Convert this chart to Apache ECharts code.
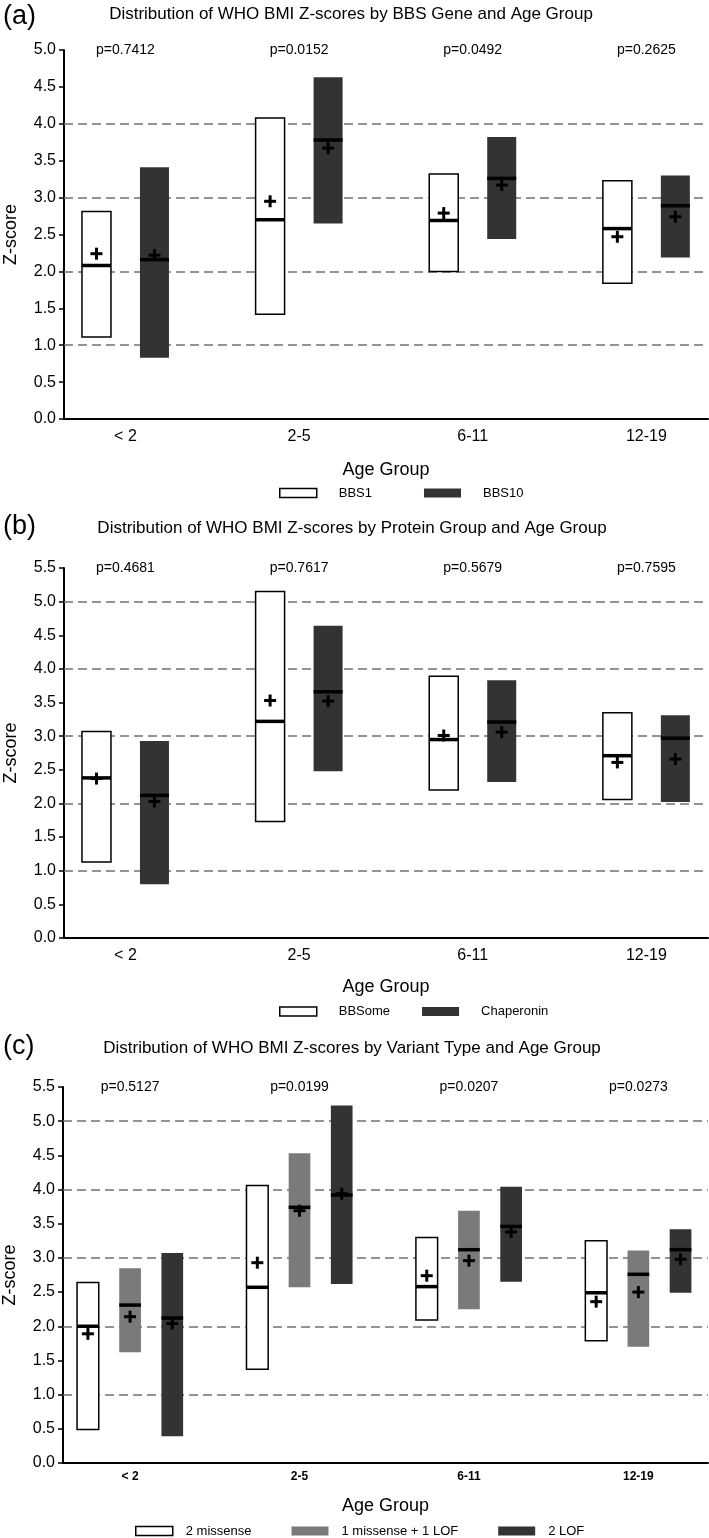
<!DOCTYPE html>
<html><head><meta charset="utf-8">
<script src="https://cdn.jsdelivr.net/npm/echarts@6/dist/echarts.min.js"></script>
<style>html,body{margin:0;padding:0;background:#fff}#c{width:709px;height:1538px}</style>
</head><body><div id="c"></div>
<script>
const ageGroups = ['< 2', '2-5', '6-11', '12-19'];
// each row (one per age group): [low, median, high, mean]
const bbs1       = [[1.11, 2.08, 2.81, 2.24], [1.42, 2.70, 4.08, 2.95], [2.00, 2.69, 3.32, 2.79], [1.84, 2.58, 3.23, 2.47]];
const bbs10      = [[0.83, 2.16, 3.41, 2.22], [2.65, 3.78, 4.63, 3.67], [2.44, 3.26, 3.82, 3.17], [2.19, 2.89, 3.30, 2.74]];
const bbsome     = [[1.13, 2.38, 3.07, 2.37], [1.73, 3.22, 5.15, 3.53], [2.20, 2.95, 3.89, 3.01], [2.06, 2.71, 3.35, 2.61]];
const chaperonin = [[0.80, 2.12, 2.93, 2.03], [2.48, 3.66, 4.64, 3.52], [2.32, 3.21, 3.83, 3.06], [2.02, 2.97, 3.31, 2.66]];
const missense2  = [[0.49, 2.00, 2.64, 1.89], [1.37, 2.57, 4.06, 2.93], [2.09, 2.58, 3.30, 2.74], [1.79, 2.49, 3.25, 2.36]];
const missenseLof= [[1.62, 2.31, 2.85, 2.14], [2.57, 3.74, 4.53, 3.69], [2.25, 3.12, 3.69, 2.96], [1.70, 2.76, 3.11, 2.50]];
const lof2       = [[0.39, 2.12, 3.07, 2.04], [2.62, 3.92, 5.23, 3.94], [2.65, 3.46, 4.04, 3.38], [2.49, 3.12, 3.42, 2.98]];
const pValuesA = ['p=0.7412', 'p=0.0152', 'p=0.0492', 'p=0.2625'];
const pValuesB = ['p=0.4681', 'p=0.7617', 'p=0.5679', 'p=0.7595'];
const pValuesC = ['p=0.5127', 'p=0.0199', 'p=0.0207', 'p=0.0273'];
const refLinesA = [1, 2, 3, 4];
const refLinesBC = [1, 2, 3, 4, 5];
const yMaxA = 5.0, yMaxBC = 5.5;

const FONT = 'Liberation Sans, Arial, sans-serif';
const WHITE = '#ffffff', GRAY = '#7a7a7a', DARK = '#333333';

function boxRender(offset, halfW, fill, border) {
  return function (params, api) {
    const x = api.value(0);
    const lo = api.value(1), med = api.value(2), hi = api.value(3), mean = api.value(4);
    const tl = api.coord([x + offset - halfW, hi]);
    const br = api.coord([x + offset + halfW, lo]);
    const ml = api.coord([x + offset - halfW, med]);
    const mr = api.coord([x + offset + halfW, med]);
    const mc = api.coord([x + offset, mean]);
    return {
      type: 'group',
      children: [
        { type: 'rect', shape: { x: tl[0], y: tl[1], width: br[0] - tl[0], height: br[1] - tl[1] },
          style: { fill: fill, stroke: border ? '#000' : null, lineWidth: border ? 1.5 : 0 } },
        { type: 'rect', shape: { x: ml[0], y: ml[1] - 1.75, width: mr[0] - ml[0], height: 3.5 }, style: { fill: '#000' } },
        { type: 'rect', shape: { x: mc[0] - 6, y: mc[1] - 1.5, width: 12, height: 3 }, style: { fill: '#000' } },
        { type: 'rect', shape: { x: mc[0] - 1.5, y: mc[1] - 6, width: 3, height: 12 }, style: { fill: '#000' } }
      ]
    };
  };
}

function boxSeries(name, rows, axisIdx, offset, halfW, fill, border) {
  return {
    name: name, type: 'custom', xAxisIndex: axisIdx, yAxisIndex: axisIdx, z: 10,
    itemStyle: { color: fill, borderColor: border ? '#000' : fill },
    renderItem: boxRender(offset, halfW, fill, border),
    encode: { x: 0, y: [1, 2, 3, 4] },
    data: rows.map((r, i) => [i, r[0], r[1], r[2], r[3]])
  };
}

function pSeries(texts, axisIdx, yMax, refLines) {
  return {
    type: 'custom', xAxisIndex: axisIdx, yAxisIndex: axisIdx, z: 3, silent: true,
    renderItem: function (params, api) {
      const p = api.coord([api.value(0), api.value(1)]);
      return { type: 'text', x: p[0], y: p[1],
        style: { text: texts[params.dataIndex], font: '14px ' + FONT, fill: '#000', align: 'center', verticalAlign: 'middle' } };
    },
    encode: { x: 0, y: 1 },
    data: texts.map((t, i) => [i, yMax]),
    markLine: {
      silent: true, symbol: 'none', z: 1, animation: false,
      label: { show: false },
      lineStyle: { type: [9, 5], color: '#707070', width: 1.6 },
      data: refLines.map(v => ({ yAxis: v }))
    }
  };
}

function xAxis(idx, min, max, labelSize, labelWeight, margin, nameGap) {
  return {
    gridIndex: idx, type: 'value', min: min, max: max,
    axisLine: { onZero: false, lineStyle: { color: '#000', width: 2 } },
    axisTick: { show: false }, splitLine: { show: false },
    axisLabel: { customValues: [0, 1, 2, 3], formatter: v => ageGroups[Math.round(v)],
      fontSize: labelSize, fontWeight: labelWeight, color: '#000', margin: margin, fontFamily: FONT },
    name: 'Age Group', nameLocation: 'middle', nameGap: nameGap,
    nameTextStyle: { fontSize: 18, color: '#000', fontFamily: FONT }
  };
}
function yAxis(idx, max) {
  return {
    gridIndex: idx, type: 'value', min: 0, max: max, interval: 0.5,
    axisLine: { show: true, onZero: false, lineStyle: { color: '#000', width: 2 } },
    axisTick: { show: true, length: 5, lineStyle: { color: '#000', width: 1.5 } },
    splitLine: { show: false },
    axisLabel: { fontSize: 16, color: '#000', margin: 8, fontFamily: FONT, formatter: v => v.toFixed(1) },
    name: 'Z-score', nameLocation: 'middle', nameGap: 44, nameRotate: 90,
    nameTextStyle: { fontSize: 18, color: '#000', fontFamily: FONT }
  };
}

function legend(items, left, top, gap, textPad, fontSize) {
  return {
    data: items, left: left, top: top, itemWidth: 37, itemHeight: 9, itemGap: gap, icon: 'rect',
    selectedMode: false, padding: 0,
    textStyle: { fontSize: fontSize, color: '#000', fontFamily: FONT, padding: [0, 0, 0, textPad] }
  };
}
const whiteItem = n => ({ name: n, itemStyle: { color: WHITE, borderColor: '#000', borderWidth: 1.5 } });
const fillItem = (n, c) => ({ name: n, itemStyle: { color: c, borderColor: c, borderWidth: 0 } });

const ABW = 0.0835, ABO = 0.167;   // half box width & offset (axis units), panels a/b
const CBW = 0.064, CBO = 0.249;    // panel c

const titleStyle = { fontSize: 17, fontWeight: 'normal', color: '#000', fontFamily: FONT };
const tagStyle = { fontSize: 27, fontWeight: 'normal', color: '#000', fontFamily: FONT };

const option = {
  animation: false,
  textStyle: { fontFamily: FONT },
  title: [
    { text: '(a)', left: 3, top: 3.5, padding: 0, textStyle: tagStyle },
    { text: 'Distribution of WHO BMI Z-scores by BBS Gene and Age Group', left: 351, textAlign: 'center', top: 5.5, padding: 0, textStyle: titleStyle },
    { text: '(b)', left: 3, top: 513.5, padding: 0, textStyle: tagStyle },
    { text: 'Distribution of WHO BMI Z-scores by Protein Group and Age Group', left: 352, textAlign: 'center', top: 519.5, padding: 0, textStyle: titleStyle },
    { text: '(c)', left: 3, top: 1033.5, padding: 0, textStyle: tagStyle },
    { text: 'Distribution of WHO BMI Z-scores by Variant Type and Age Group', left: 352, textAlign: 'center', top: 1039.5, padding: 0, textStyle: titleStyle }
  ],
  grid: [
    { left: 64, top: 50, width: 644, height: 369, outerBoundsMode: 'none', containLabel: false },
    { left: 64, top: 568, width: 644, height: 370, outerBoundsMode: 'none', containLabel: false },
    { left: 63, top: 1087, width: 645, height: 376, outerBoundsMode: 'none', containLabel: false }
  ],
  xAxis: [
    xAxis(0, -0.354, 3.355, 16, 'normal', 10, 42),
    xAxis(1, -0.354, 3.355, 16, 'normal', 10, 40),
    xAxis(2, -0.396, 3.411, 12, 'bold', 8, 34)
  ],
  yAxis: [yAxis(0, yMaxA), yAxis(1, yMaxBC), yAxis(2, yMaxBC)],
  legend: [
    legend([whiteItem('BBS1'), fillItem('BBS10', DARK)], 279, 486.5, 52, 17, 13),
    legend([whiteItem('BBSome'), fillItem('Chaperonin', DARK)], 279, 1005, 32, 17, 13),
    legend([whiteItem('2 missense'), fillItem('1 missense + 1 LOF', GRAY), fillItem('2 LOF', DARK)], 135, 1524.5, 40, 8, 13)
  ],
  series: [
    pSeries(pValuesA, 0, yMaxA, refLinesA),
    pSeries(pValuesB, 1, yMaxBC, refLinesBC),
    pSeries(pValuesC, 2, yMaxBC, refLinesBC),
    boxSeries('BBS1', bbs1, 0, -ABO, ABW, WHITE, true),
    boxSeries('BBS10', bbs10, 0, ABO, ABW, DARK, false),
    boxSeries('BBSome', bbsome, 1, -ABO, ABW, WHITE, true),
    boxSeries('Chaperonin', chaperonin, 1, ABO, ABW, DARK, false),
    boxSeries('2 missense', missense2, 2, -CBO, CBW, WHITE, true),
    boxSeries('1 missense + 1 LOF', missenseLof, 2, 0, CBW, GRAY, false),
    boxSeries('2 LOF', lof2, 2, CBO, CBW, DARK, false)
  ]
};
const chart = echarts.init(document.getElementById('c'), null, { renderer: 'canvas' });
chart.setOption(option);
</script>
</body></html>
